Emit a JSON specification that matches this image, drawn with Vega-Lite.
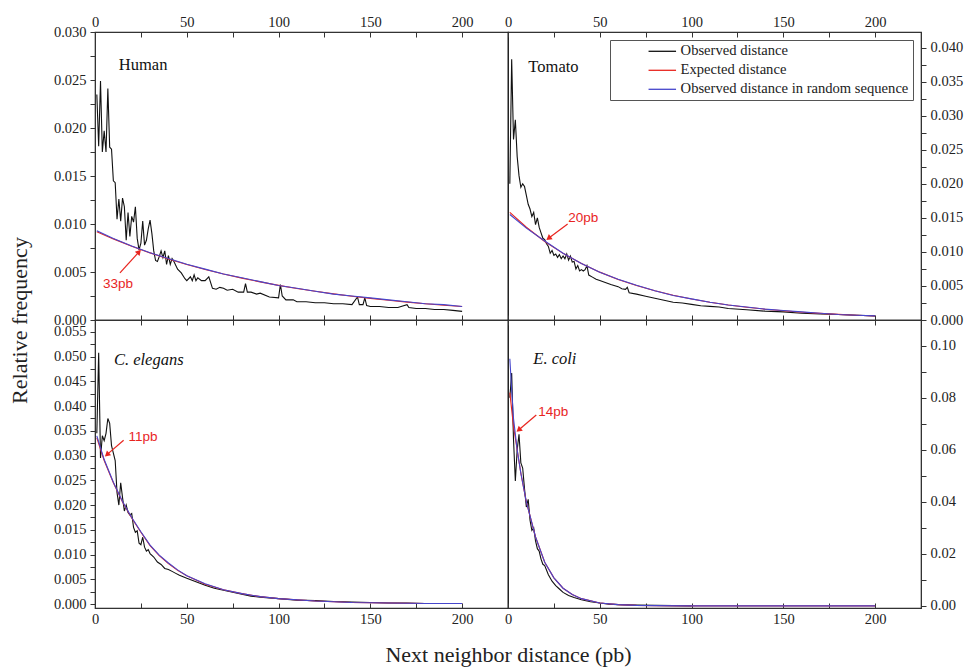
{
  "$schema": "https://vega.github.io/schema/vega-lite/v6.json",
  "padding": {"left": 7, "top": 13, "right": 5, "bottom": 5},
  "background": "white",
  "config": {
    "view": {"stroke": "#222", "strokeWidth": 1.2},
    "axis": {"labelFont": "Liberation Serif", "labelFontSize": 14.5, "labelColor": "#222", "domainColor": "#333", "tickColor": "#333", "grid": false, "titleFont": "Liberation Serif", "titleFontSize": 22, "titleFontWeight": "normal", "titleColor": "#222", "labelFlush": false, "labelOverlap": false, "tickCount": 100},
    "legend": {"labelFont": "Liberation Serif", "labelFontSize": 14.6, "labelColor": "#222", "labelLimit": 400}
  },
  "datasets": {
    "human": [
      {"s": "Observed distance", "d": 1, "f": 0.0235}, {"s": "Observed distance", "d": 2, "f": 0.0181}, {"s": "Observed distance", "d": 3, "f": 0.0249}, {"s": "Observed distance", "d": 4, "f": 0.0175}, {"s": "Observed distance", "d": 5, "f": 0.0197}, {"s": "Observed distance", "d": 6, "f": 0.0175}, {"s": "Observed distance", "d": 7, "f": 0.0241}, {"s": "Observed distance", "d": 8, "f": 0.018}, {"s": "Observed distance", "d": 9, "f": 0.0178}, {"s": "Observed distance", "d": 10, "f": 0.0145}, {"s": "Observed distance", "d": 11, "f": 0.0143}, {"s": "Observed distance", "d": 12, "f": 0.0105}, {"s": "Observed distance", "d": 13, "f": 0.0126}, {"s": "Observed distance", "d": 14, "f": 0.0103}, {"s": "Observed distance", "d": 15, "f": 0.0127}, {"s": "Observed distance", "d": 16, "f": 0.0118}, {"s": "Observed distance", "d": 17, "f": 0.0083}, {"s": "Observed distance", "d": 18, "f": 0.0112}, {"s": "Observed distance", "d": 19, "f": 0.0087}, {"s": "Observed distance", "d": 20, "f": 0.0108}, {"s": "Observed distance", "d": 21, "f": 0.0102}, {"s": "Observed distance", "d": 22, "f": 0.0118}, {"s": "Observed distance", "d": 23, "f": 0.0085}, {"s": "Observed distance", "d": 24, "f": 0.0073}, {"s": "Observed distance", "d": 25, "f": 0.008}, {"s": "Observed distance", "d": 26, "f": 0.0103}, {"s": "Observed distance", "d": 27, "f": 0.0078}, {"s": "Observed distance", "d": 28, "f": 0.0083}, {"s": "Observed distance", "d": 29, "f": 0.0095}, {"s": "Observed distance", "d": 30, "f": 0.0104}, {"s": "Observed distance", "d": 31, "f": 0.009}, {"s": "Observed distance", "d": 32, "f": 0.0072}, {"s": "Observed distance", "d": 33, "f": 0.0062}, {"s": "Observed distance", "d": 34, "f": 0.0061}, {"s": "Observed distance", "d": 35, "f": 0.0066}, {"s": "Observed distance", "d": 36, "f": 0.0072}, {"s": "Observed distance", "d": 37, "f": 0.0065}, {"s": "Observed distance", "d": 38, "f": 0.0072}, {"s": "Observed distance", "d": 39, "f": 0.0058}, {"s": "Observed distance", "d": 40, "f": 0.0067}, {"s": "Observed distance", "d": 41, "f": 0.0058}, {"s": "Observed distance", "d": 42, "f": 0.0064}, {"s": "Observed distance", "d": 43, "f": 0.0061}, {"s": "Observed distance", "d": 45, "f": 0.0053}, {"s": "Observed distance", "d": 47, "f": 0.0049}, {"s": "Observed distance", "d": 49, "f": 0.0043}, {"s": "Observed distance", "d": 50, "f": 0.0041}, {"s": "Observed distance", "d": 52, "f": 0.0045}, {"s": "Observed distance", "d": 53, "f": 0.0041}, {"s": "Observed distance", "d": 54, "f": 0.0047}, {"s": "Observed distance", "d": 55, "f": 0.0041}, {"s": "Observed distance", "d": 56, "f": 0.0044}, {"s": "Observed distance", "d": 58, "f": 0.0041}, {"s": "Observed distance", "d": 60, "f": 0.0041}, {"s": "Observed distance", "d": 62, "f": 0.0045}, {"s": "Observed distance", "d": 64, "f": 0.0033}, {"s": "Observed distance", "d": 66, "f": 0.0032}, {"s": "Observed distance", "d": 68, "f": 0.0034}, {"s": "Observed distance", "d": 70, "f": 0.0033}, {"s": "Observed distance", "d": 72, "f": 0.0031}, {"s": "Observed distance", "d": 75, "f": 0.0032}, {"s": "Observed distance", "d": 78, "f": 0.0029}, {"s": "Observed distance", "d": 81, "f": 0.0029}, {"s": "Observed distance", "d": 82, "f": 0.0038}, {"s": "Observed distance", "d": 83, "f": 0.0029}, {"s": "Observed distance", "d": 85, "f": 0.0029}, {"s": "Observed distance", "d": 88, "f": 0.0027}, {"s": "Observed distance", "d": 90, "f": 0.0028}, {"s": "Observed distance", "d": 95, "f": 0.0024}, {"s": "Observed distance", "d": 100, "f": 0.0023}, {"s": "Observed distance", "d": 101, "f": 0.0037}, {"s": "Observed distance", "d": 102, "f": 0.0025}, {"s": "Observed distance", "d": 104, "f": 0.0021}, {"s": "Observed distance", "d": 108, "f": 0.0021}, {"s": "Observed distance", "d": 110, "f": 0.0019}, {"s": "Observed distance", "d": 115, "f": 0.0019}, {"s": "Observed distance", "d": 120, "f": 0.0018}, {"s": "Observed distance", "d": 125, "f": 0.0018}, {"s": "Observed distance", "d": 130, "f": 0.0017}, {"s": "Observed distance", "d": 135, "f": 0.0017}, {"s": "Observed distance", "d": 140, "f": 0.0016}, {"s": "Observed distance", "d": 143, "f": 0.0024}, {"s": "Observed distance", "d": 144, "f": 0.0016}, {"s": "Observed distance", "d": 146, "f": 0.0016}, {"s": "Observed distance", "d": 147, "f": 0.0023}, {"s": "Observed distance", "d": 148, "f": 0.0015}, {"s": "Observed distance", "d": 150, "f": 0.0014}, {"s": "Observed distance", "d": 155, "f": 0.0014}, {"s": "Observed distance", "d": 160, "f": 0.0013}, {"s": "Observed distance", "d": 165, "f": 0.0013}, {"s": "Observed distance", "d": 170, "f": 0.0016}, {"s": "Observed distance", "d": 171, "f": 0.0013}, {"s": "Observed distance", "d": 175, "f": 0.0012}, {"s": "Observed distance", "d": 180, "f": 0.0012}, {"s": "Observed distance", "d": 185, "f": 0.0011}, {"s": "Observed distance", "d": 190, "f": 0.0011}, {"s": "Observed distance", "d": 195, "f": 0.001}, {"s": "Observed distance", "d": 200, "f": 0.0009},
      {"s": "Expected distance", "d": 1, "f": 0.0092}, {"s": "Expected distance", "d": 10, "f": 0.00845}, {"s": "Expected distance", "d": 20, "f": 0.00769}, {"s": "Expected distance", "d": 30, "f": 0.00699}, {"s": "Expected distance", "d": 40, "f": 0.00636}, {"s": "Expected distance", "d": 50, "f": 0.00579}, {"s": "Expected distance", "d": 60, "f": 0.00527}, {"s": "Expected distance", "d": 70, "f": 0.00479}, {"s": "Expected distance", "d": 80, "f": 0.00436}, {"s": "Expected distance", "d": 90, "f": 0.00397}, {"s": "Expected distance", "d": 100, "f": 0.00361}, {"s": "Expected distance", "d": 110, "f": 0.00328}, {"s": "Expected distance", "d": 120, "f": 0.00299}, {"s": "Expected distance", "d": 130, "f": 0.00272}, {"s": "Expected distance", "d": 140, "f": 0.00247}, {"s": "Expected distance", "d": 150, "f": 0.00225}, {"s": "Expected distance", "d": 160, "f": 0.00205}, {"s": "Expected distance", "d": 170, "f": 0.00186}, {"s": "Expected distance", "d": 180, "f": 0.00169}, {"s": "Expected distance", "d": 190, "f": 0.00154}, {"s": "Expected distance", "d": 200, "f": 0.0014},
      {"s": "Observed distance in random sequence", "d": 1, "f": 0.0093}, {"s": "Observed distance in random sequence", "d": 10, "f": 0.0085}, {"s": "Observed distance in random sequence", "d": 20, "f": 0.0077}, {"s": "Observed distance in random sequence", "d": 30, "f": 0.007}, {"s": "Observed distance in random sequence", "d": 40, "f": 0.0064}, {"s": "Observed distance in random sequence", "d": 50, "f": 0.0058}, {"s": "Observed distance in random sequence", "d": 60, "f": 0.0053}, {"s": "Observed distance in random sequence", "d": 70, "f": 0.0048}, {"s": "Observed distance in random sequence", "d": 80, "f": 0.0044}, {"s": "Observed distance in random sequence", "d": 90, "f": 0.004}, {"s": "Observed distance in random sequence", "d": 100, "f": 0.0036}, {"s": "Observed distance in random sequence", "d": 110, "f": 0.0033}, {"s": "Observed distance in random sequence", "d": 120, "f": 0.003}, {"s": "Observed distance in random sequence", "d": 130, "f": 0.0027}, {"s": "Observed distance in random sequence", "d": 140, "f": 0.0025}, {"s": "Observed distance in random sequence", "d": 150, "f": 0.0023}, {"s": "Observed distance in random sequence", "d": 160, "f": 0.0021}, {"s": "Observed distance in random sequence", "d": 170, "f": 0.0019}, {"s": "Observed distance in random sequence", "d": 180, "f": 0.0017}, {"s": "Observed distance in random sequence", "d": 190, "f": 0.0016}, {"s": "Observed distance in random sequence", "d": 200, "f": 0.0014}
    ],
    "tomato": [
      {"s": "Observed distance", "d": 1, "f": 0.02}, {"s": "Observed distance", "d": 2, "f": 0.0383}, {"s": "Observed distance", "d": 3, "f": 0.0265}, {"s": "Observed distance", "d": 4, "f": 0.0294}, {"s": "Observed distance", "d": 5, "f": 0.024}, {"s": "Observed distance", "d": 6, "f": 0.0212}, {"s": "Observed distance", "d": 7, "f": 0.0195}, {"s": "Observed distance", "d": 8, "f": 0.02}, {"s": "Observed distance", "d": 9, "f": 0.0196}, {"s": "Observed distance", "d": 10, "f": 0.0183}, {"s": "Observed distance", "d": 11, "f": 0.017}, {"s": "Observed distance", "d": 12, "f": 0.0163}, {"s": "Observed distance", "d": 13, "f": 0.0152}, {"s": "Observed distance", "d": 14, "f": 0.0158}, {"s": "Observed distance", "d": 15, "f": 0.014}, {"s": "Observed distance", "d": 16, "f": 0.015}, {"s": "Observed distance", "d": 17, "f": 0.0136}, {"s": "Observed distance", "d": 18, "f": 0.0128}, {"s": "Observed distance", "d": 19, "f": 0.012}, {"s": "Observed distance", "d": 20, "f": 0.0118}, {"s": "Observed distance", "d": 21, "f": 0.0112}, {"s": "Observed distance", "d": 22, "f": 0.0108}, {"s": "Observed distance", "d": 23, "f": 0.0098}, {"s": "Observed distance", "d": 24, "f": 0.0102}, {"s": "Observed distance", "d": 25, "f": 0.0095}, {"s": "Observed distance", "d": 26, "f": 0.0097}, {"s": "Observed distance", "d": 27, "f": 0.0092}, {"s": "Observed distance", "d": 28, "f": 0.0096}, {"s": "Observed distance", "d": 29, "f": 0.009}, {"s": "Observed distance", "d": 30, "f": 0.0094}, {"s": "Observed distance", "d": 31, "f": 0.009}, {"s": "Observed distance", "d": 32, "f": 0.0097}, {"s": "Observed distance", "d": 33, "f": 0.0088}, {"s": "Observed distance", "d": 34, "f": 0.0094}, {"s": "Observed distance", "d": 35, "f": 0.0085}, {"s": "Observed distance", "d": 36, "f": 0.0086}, {"s": "Observed distance", "d": 37, "f": 0.0075}, {"s": "Observed distance", "d": 38, "f": 0.008}, {"s": "Observed distance", "d": 39, "f": 0.0072}, {"s": "Observed distance", "d": 40, "f": 0.0074}, {"s": "Observed distance", "d": 41, "f": 0.0072}, {"s": "Observed distance", "d": 42, "f": 0.0074}, {"s": "Observed distance", "d": 43, "f": 0.008}, {"s": "Observed distance", "d": 44, "f": 0.0066}, {"s": "Observed distance", "d": 46, "f": 0.0063}, {"s": "Observed distance", "d": 48, "f": 0.006}, {"s": "Observed distance", "d": 50, "f": 0.0058}, {"s": "Observed distance", "d": 53, "f": 0.0055}, {"s": "Observed distance", "d": 56, "f": 0.0052}, {"s": "Observed distance", "d": 60, "f": 0.0049}, {"s": "Observed distance", "d": 62, "f": 0.0046}, {"s": "Observed distance", "d": 64, "f": 0.0045}, {"s": "Observed distance", "d": 65, "f": 0.0048}, {"s": "Observed distance", "d": 66, "f": 0.004}, {"s": "Observed distance", "d": 70, "f": 0.0038}, {"s": "Observed distance", "d": 75, "f": 0.0035}, {"s": "Observed distance", "d": 80, "f": 0.0032}, {"s": "Observed distance", "d": 85, "f": 0.0029}, {"s": "Observed distance", "d": 90, "f": 0.0026}, {"s": "Observed distance", "d": 95, "f": 0.0025}, {"s": "Observed distance", "d": 100, "f": 0.0023}, {"s": "Observed distance", "d": 105, "f": 0.0021}, {"s": "Observed distance", "d": 110, "f": 0.002}, {"s": "Observed distance", "d": 115, "f": 0.0019}, {"s": "Observed distance", "d": 120, "f": 0.0017}, {"s": "Observed distance", "d": 130, "f": 0.0015}, {"s": "Observed distance", "d": 140, "f": 0.0013}, {"s": "Observed distance", "d": 150, "f": 0.0012}, {"s": "Observed distance", "d": 160, "f": 0.001}, {"s": "Observed distance", "d": 170, "f": 0.0009}, {"s": "Observed distance", "d": 180, "f": 0.0008}, {"s": "Observed distance", "d": 190, "f": 0.0007}, {"s": "Observed distance", "d": 200, "f": 0.0006},
      {"s": "Expected distance", "d": 1, "f": 0.0158}, {"s": "Expected distance", "d": 10, "f": 0.01362}, {"s": "Expected distance", "d": 20, "f": 0.01154}, {"s": "Expected distance", "d": 30, "f": 0.00979}, {"s": "Expected distance", "d": 40, "f": 0.0083}, {"s": "Expected distance", "d": 50, "f": 0.00703}, {"s": "Expected distance", "d": 60, "f": 0.00596}, {"s": "Expected distance", "d": 70, "f": 0.00506}, {"s": "Expected distance", "d": 80, "f": 0.00429}, {"s": "Expected distance", "d": 90, "f": 0.00363}, {"s": "Expected distance", "d": 100, "f": 0.00308}, {"s": "Expected distance", "d": 110, "f": 0.00261}, {"s": "Expected distance", "d": 120, "f": 0.00221}, {"s": "Expected distance", "d": 130, "f": 0.00188}, {"s": "Expected distance", "d": 140, "f": 0.00159}, {"s": "Expected distance", "d": 150, "f": 0.00135}, {"s": "Expected distance", "d": 160, "f": 0.00114}, {"s": "Expected distance", "d": 170, "f": 0.00097}, {"s": "Expected distance", "d": 180, "f": 0.00082}, {"s": "Expected distance", "d": 190, "f": 0.0007}, {"s": "Expected distance", "d": 200, "f": 0.00059},
      {"s": "Observed distance in random sequence", "d": 1, "f": 0.0155}, {"s": "Observed distance in random sequence", "d": 10, "f": 0.0135}, {"s": "Observed distance in random sequence", "d": 20, "f": 0.0116}, {"s": "Observed distance in random sequence", "d": 30, "f": 0.0098}, {"s": "Observed distance in random sequence", "d": 40, "f": 0.0083}, {"s": "Observed distance in random sequence", "d": 50, "f": 0.007}, {"s": "Observed distance in random sequence", "d": 60, "f": 0.006}, {"s": "Observed distance in random sequence", "d": 70, "f": 0.0051}, {"s": "Observed distance in random sequence", "d": 80, "f": 0.0043}, {"s": "Observed distance in random sequence", "d": 90, "f": 0.0036}, {"s": "Observed distance in random sequence", "d": 100, "f": 0.0031}, {"s": "Observed distance in random sequence", "d": 110, "f": 0.0026}, {"s": "Observed distance in random sequence", "d": 120, "f": 0.0022}, {"s": "Observed distance in random sequence", "d": 130, "f": 0.0019}, {"s": "Observed distance in random sequence", "d": 140, "f": 0.0016}, {"s": "Observed distance in random sequence", "d": 150, "f": 0.0014}, {"s": "Observed distance in random sequence", "d": 160, "f": 0.0012}, {"s": "Observed distance in random sequence", "d": 170, "f": 0.001}, {"s": "Observed distance in random sequence", "d": 180, "f": 0.0008}, {"s": "Observed distance in random sequence", "d": 190, "f": 0.0007}, {"s": "Observed distance in random sequence", "d": 200, "f": 0.0006}
    ],
    "celegans": [
      {"s": "Observed distance", "d": 1, "f": 0.0345}, {"s": "Observed distance", "d": 2, "f": 0.0508}, {"s": "Observed distance", "d": 3, "f": 0.0295}, {"s": "Observed distance", "d": 4, "f": 0.034}, {"s": "Observed distance", "d": 5, "f": 0.033}, {"s": "Observed distance", "d": 6, "f": 0.0345}, {"s": "Observed distance", "d": 7, "f": 0.0375}, {"s": "Observed distance", "d": 8, "f": 0.0365}, {"s": "Observed distance", "d": 9, "f": 0.032}, {"s": "Observed distance", "d": 10, "f": 0.0305}, {"s": "Observed distance", "d": 11, "f": 0.029}, {"s": "Observed distance", "d": 12, "f": 0.0225}, {"s": "Observed distance", "d": 13, "f": 0.02}, {"s": "Observed distance", "d": 14, "f": 0.0245}, {"s": "Observed distance", "d": 15, "f": 0.0215}, {"s": "Observed distance", "d": 16, "f": 0.0188}, {"s": "Observed distance", "d": 17, "f": 0.02}, {"s": "Observed distance", "d": 18, "f": 0.0185}, {"s": "Observed distance", "d": 19, "f": 0.018}, {"s": "Observed distance", "d": 20, "f": 0.0183}, {"s": "Observed distance", "d": 21, "f": 0.0155}, {"s": "Observed distance", "d": 22, "f": 0.0145}, {"s": "Observed distance", "d": 23, "f": 0.0148}, {"s": "Observed distance", "d": 24, "f": 0.0123}, {"s": "Observed distance", "d": 25, "f": 0.012}, {"s": "Observed distance", "d": 26, "f": 0.0135}, {"s": "Observed distance", "d": 27, "f": 0.0115}, {"s": "Observed distance", "d": 28, "f": 0.0107}, {"s": "Observed distance", "d": 29, "f": 0.011}, {"s": "Observed distance", "d": 30, "f": 0.0102}, {"s": "Observed distance", "d": 32, "f": 0.0095}, {"s": "Observed distance", "d": 34, "f": 0.0085}, {"s": "Observed distance", "d": 36, "f": 0.008}, {"s": "Observed distance", "d": 38, "f": 0.0072}, {"s": "Observed distance", "d": 40, "f": 0.007}, {"s": "Observed distance", "d": 42, "f": 0.0066}, {"s": "Observed distance", "d": 44, "f": 0.0062}, {"s": "Observed distance", "d": 46, "f": 0.0058}, {"s": "Observed distance", "d": 48, "f": 0.0055}, {"s": "Observed distance", "d": 50, "f": 0.0052}, {"s": "Observed distance", "d": 55, "f": 0.0045}, {"s": "Observed distance", "d": 60, "f": 0.0038}, {"s": "Observed distance", "d": 65, "f": 0.0032}, {"s": "Observed distance", "d": 70, "f": 0.0028}, {"s": "Observed distance", "d": 75, "f": 0.0024}, {"s": "Observed distance", "d": 80, "f": 0.002}, {"s": "Observed distance", "d": 85, "f": 0.0016}, {"s": "Observed distance", "d": 90, "f": 0.0014}, {"s": "Observed distance", "d": 100, "f": 0.0011}, {"s": "Observed distance", "d": 110, "f": 0.0008}, {"s": "Observed distance", "d": 120, "f": 0.0007}, {"s": "Observed distance", "d": 130, "f": 0.0005}, {"s": "Observed distance", "d": 140, "f": 0.0004}, {"s": "Observed distance", "d": 150, "f": 0.0003}, {"s": "Observed distance", "d": 160, "f": 0.0002}, {"s": "Observed distance", "d": 170, "f": 0.0002}, {"s": "Observed distance", "d": 180, "f": 0.0001}, {"s": "Observed distance", "d": 190, "f": 0.0001}, {"s": "Observed distance", "d": 200, "f": 0.0001},
      {"s": "Expected distance", "d": 1, "f": 0.0336}, {"s": "Expected distance", "d": 5, "f": 0.029}, {"s": "Expected distance", "d": 10, "f": 0.0245}, {"s": "Expected distance", "d": 15, "f": 0.0206}, {"s": "Expected distance", "d": 20, "f": 0.0174}, {"s": "Expected distance", "d": 25, "f": 0.0145}, {"s": "Expected distance", "d": 30, "f": 0.0118}, {"s": "Expected distance", "d": 35, "f": 0.0098}, {"s": "Expected distance", "d": 40, "f": 0.0082}, {"s": "Expected distance", "d": 45, "f": 0.0068}, {"s": "Expected distance", "d": 50, "f": 0.0057}, {"s": "Expected distance", "d": 60, "f": 0.004}, {"s": "Expected distance", "d": 70, "f": 0.0029}, {"s": "Expected distance", "d": 80, "f": 0.0021}, {"s": "Expected distance", "d": 90, "f": 0.0015}, {"s": "Expected distance", "d": 100, "f": 0.0011}, {"s": "Expected distance", "d": 120, "f": 0.0006}, {"s": "Expected distance", "d": 140, "f": 0.0003}, {"s": "Expected distance", "d": 160, "f": 0.0002}, {"s": "Expected distance", "d": 180, "f": 0.0001}, {"s": "Expected distance", "d": 200, "f": 0.0001},
      {"s": "Observed distance in random sequence", "d": 1, "f": 0.034}, {"s": "Observed distance in random sequence", "d": 5, "f": 0.0292}, {"s": "Observed distance in random sequence", "d": 10, "f": 0.0246}, {"s": "Observed distance in random sequence", "d": 15, "f": 0.0207}, {"s": "Observed distance in random sequence", "d": 20, "f": 0.0175}, {"s": "Observed distance in random sequence", "d": 25, "f": 0.0146}, {"s": "Observed distance in random sequence", "d": 30, "f": 0.0119}, {"s": "Observed distance in random sequence", "d": 35, "f": 0.0099}, {"s": "Observed distance in random sequence", "d": 40, "f": 0.0083}, {"s": "Observed distance in random sequence", "d": 45, "f": 0.0069}, {"s": "Observed distance in random sequence", "d": 50, "f": 0.0057}, {"s": "Observed distance in random sequence", "d": 60, "f": 0.0041}, {"s": "Observed distance in random sequence", "d": 70, "f": 0.0029}, {"s": "Observed distance in random sequence", "d": 80, "f": 0.0021}, {"s": "Observed distance in random sequence", "d": 90, "f": 0.0015}, {"s": "Observed distance in random sequence", "d": 100, "f": 0.0011}, {"s": "Observed distance in random sequence", "d": 120, "f": 0.0006}, {"s": "Observed distance in random sequence", "d": 140, "f": 0.0003}, {"s": "Observed distance in random sequence", "d": 160, "f": 0.0002}, {"s": "Observed distance in random sequence", "d": 180, "f": 0.0001}, {"s": "Observed distance in random sequence", "d": 200, "f": 0.0001}
    ],
    "ecoli": [
      {"s": "Observed distance", "d": 1, "f": 0.08}, {"s": "Observed distance", "d": 2, "f": 0.0895}, {"s": "Observed distance", "d": 3, "f": 0.064}, {"s": "Observed distance", "d": 4, "f": 0.048}, {"s": "Observed distance", "d": 5, "f": 0.06}, {"s": "Observed distance", "d": 6, "f": 0.066}, {"s": "Observed distance", "d": 7, "f": 0.055}, {"s": "Observed distance", "d": 8, "f": 0.053}, {"s": "Observed distance", "d": 9, "f": 0.045}, {"s": "Observed distance", "d": 10, "f": 0.038}, {"s": "Observed distance", "d": 11, "f": 0.041}, {"s": "Observed distance", "d": 12, "f": 0.033}, {"s": "Observed distance", "d": 13, "f": 0.029}, {"s": "Observed distance", "d": 14, "f": 0.03}, {"s": "Observed distance", "d": 15, "f": 0.025}, {"s": "Observed distance", "d": 16, "f": 0.022}, {"s": "Observed distance", "d": 17, "f": 0.021}, {"s": "Observed distance", "d": 18, "f": 0.018}, {"s": "Observed distance", "d": 19, "f": 0.016}, {"s": "Observed distance", "d": 20, "f": 0.0155}, {"s": "Observed distance", "d": 22, "f": 0.012}, {"s": "Observed distance", "d": 24, "f": 0.0095}, {"s": "Observed distance", "d": 26, "f": 0.0078}, {"s": "Observed distance", "d": 28, "f": 0.0065}, {"s": "Observed distance", "d": 30, "f": 0.0052}, {"s": "Observed distance", "d": 33, "f": 0.004}, {"s": "Observed distance", "d": 36, "f": 0.0032}, {"s": "Observed distance", "d": 40, "f": 0.0024}, {"s": "Observed distance", "d": 45, "f": 0.0016}, {"s": "Observed distance", "d": 50, "f": 0.0011}, {"s": "Observed distance", "d": 55, "f": 0.0007}, {"s": "Observed distance", "d": 60, "f": 0.0005}, {"s": "Observed distance", "d": 70, "f": 0.0003}, {"s": "Observed distance", "d": 80, "f": 0.0002}, {"s": "Observed distance", "d": 90, "f": 0.0001}, {"s": "Observed distance", "d": 100, "f": 0.0},
      {"s": "Expected distance", "d": 1, "f": 0.082}, {"s": "Expected distance", "d": 3, "f": 0.069}, {"s": "Expected distance", "d": 5, "f": 0.06}, {"s": "Expected distance", "d": 7, "f": 0.051}, {"s": "Expected distance", "d": 10, "f": 0.04}, {"s": "Expected distance", "d": 15, "f": 0.0265}, {"s": "Expected distance", "d": 20, "f": 0.0168}, {"s": "Expected distance", "d": 25, "f": 0.0108}, {"s": "Expected distance", "d": 30, "f": 0.0068}, {"s": "Expected distance", "d": 35, "f": 0.0044}, {"s": "Expected distance", "d": 40, "f": 0.0028}, {"s": "Expected distance", "d": 50, "f": 0.0011}, {"s": "Expected distance", "d": 60, "f": 0.0005}, {"s": "Expected distance", "d": 70, "f": 0.0002}, {"s": "Expected distance", "d": 80, "f": 0.0001}, {"s": "Expected distance", "d": 100, "f": 0.0}, {"s": "Expected distance", "d": 150, "f": 0.0}, {"s": "Expected distance", "d": 200, "f": 0.0},
      {"s": "Observed distance in random sequence", "d": 1, "f": 0.095}, {"s": "Observed distance in random sequence", "d": 2, "f": 0.083}, {"s": "Observed distance in random sequence", "d": 3, "f": 0.072}, {"s": "Observed distance in random sequence", "d": 5, "f": 0.06}, {"s": "Observed distance in random sequence", "d": 7, "f": 0.051}, {"s": "Observed distance in random sequence", "d": 10, "f": 0.04}, {"s": "Observed distance in random sequence", "d": 15, "f": 0.0265}, {"s": "Observed distance in random sequence", "d": 20, "f": 0.0168}, {"s": "Observed distance in random sequence", "d": 25, "f": 0.0108}, {"s": "Observed distance in random sequence", "d": 30, "f": 0.0068}, {"s": "Observed distance in random sequence", "d": 35, "f": 0.0044}, {"s": "Observed distance in random sequence", "d": 40, "f": 0.0028}, {"s": "Observed distance in random sequence", "d": 50, "f": 0.0011}, {"s": "Observed distance in random sequence", "d": 60, "f": 0.0005}, {"s": "Observed distance in random sequence", "d": 70, "f": 0.0002}, {"s": "Observed distance in random sequence", "d": 80, "f": 0.0001}, {"s": "Observed distance in random sequence", "d": 100, "f": 0.0}, {"s": "Observed distance in random sequence", "d": 150, "f": 0.0}, {"s": "Observed distance in random sequence", "d": 200, "f": 0.0}
    ],
    "notes": [
      {"p": "H", "x1": 13.6, "y1": 0.0049, "x2": 24, "y2": 0.0071, "a": 42, "label": "33pb", "tx": 12.5, "ty": 0.00375, "name": "Human", "nx": 13, "ny": 0.0266},
      {"p": "T", "x1": 32.5, "y1": 0.0141, "x2": 22.1, "y2": 0.012, "a": 233, "label": "20pb", "tx": 41, "ty": 0.015, "name": "Tomato", "nx": 11.1, "ny": 0.0372},
      {"p": "C", "x1": 15.6, "y1": 0.0331, "x2": 6.5, "y2": 0.0302, "a": 229, "label": "11pb", "tx": 26.1, "ty": 0.0338, "name": "C. elegans", "nx": 10.3, "ny": 0.0494},
      {"p": "E", "x1": 15.4, "y1": 0.0734, "x2": 5.8, "y2": 0.0676, "a": 230, "label": "14pb", "tx": 24.7, "ty": 0.0745, "name": "E. coli", "nx": 13.8, "ny": 0.0949}
    ]
  },
  "columns": 2,
  "concat": [
    {
      "width": 413, "height": 288,
      "layer": [
        {"data": {"name": "human"}, "mark": {"type": "line", "strokeWidth": 1.1},
         "encoding": {
           "x": {"field": "d", "type": "quantitative", "scale": {"domain": [0, 225], "nice": false},
                 "axis": {"orient": "top", "values": [0, 25, 50, 75, 100, 125, 150, 175, 200], "labelExpr": "datum.value % 50 === 0 ? datum.label : ''", "tickSize": -5, "tickCount": 100, "labelPadding": 8, "labelOverlap": false, "title": null}},
           "y": {"field": "f", "type": "quantitative", "scale": {"domain": [0, 0.03], "nice": false},
                 "axis": {"orient": "left", "values": [0, 0.0025, 0.005, 0.0075, 0.01, 0.0125, 0.015, 0.0175, 0.02, 0.0225, 0.025, 0.0275, 0.03], "labelExpr": "round(datum.value * 10000) % 50 === 0 ? format(datum.value, '.3f') : ''", "tickSize": 5, "tickCount": 100, "labelPadding": 4, "labelOverlap": false, "title": "Relative frequency", "titleX": -64, "titleY": 288, "titleAnchor": "middle"}},
           "color": {"field": "s", "type": "nominal", "scale": {"domain": ["Observed distance", "Expected distance", "Observed distance in random sequence"], "range": ["#111111", "#e8251f", "#4646cc"]}, "legend": null}
         }},
        {"data": {"name": "notes"}, "transform": [{"filter": "datum.p === 'H'"}], "mark": {"type": "rule", "color": "#e8251f", "strokeWidth": 1.2},
         "encoding": {
           "x": {"field": "x1", "type": "quantitative", "scale": {"domain": [0, 225], "nice": false}, "axis": {"orient": "bottom", "values": [0, 25, 50, 75, 100, 125, 150, 175, 200], "labels": false, "tickSize": -5, "tickCount": 100, "title": null}},
           "y": {"field": "y1", "type": "quantitative", "scale": {"domain": [0, 0.03], "nice": false}},
           "x2": {"field": "x2"}, "y2": {"field": "y2"}}},
        {"data": {"name": "notes"}, "transform": [{"filter": "datum.p === 'H'"}], "mark": {"type": "point", "shape": "triangle-up", "filled": true, "color": "#e8251f", "size": 40, "opacity": 1},
         "encoding": {"x": {"field": "x2", "type": "quantitative", "scale": {"domain": [0, 225], "nice": false}, "axis": null}, "y": {"field": "y2", "type": "quantitative", "scale": {"domain": [0, 0.03], "nice": false}}, "angle": {"field": "a", "type": "quantitative", "scale": null}}},
        {"data": {"name": "notes"}, "transform": [{"filter": "datum.p === 'H'"}], "mark": {"type": "text", "color": "#e8251f", "font": "Liberation Sans", "fontSize": 13.5, "align": "center", "baseline": "middle"},
         "encoding": {"x": {"field": "tx", "type": "quantitative", "scale": {"domain": [0, 225], "nice": false}, "axis": null}, "y": {"field": "ty", "type": "quantitative", "scale": {"domain": [0, 0.03], "nice": false}}, "text": {"field": "label"}}},
        {"data": {"name": "notes"}, "transform": [{"filter": "datum.p === 'H'"}], "mark": {"type": "text", "color": "#111", "font": "Liberation Serif", "fontSize": 16.5, "align": "left", "baseline": "middle"},
         "encoding": {"x": {"field": "nx", "type": "quantitative", "scale": {"domain": [0, 225], "nice": false}, "axis": null}, "y": {"field": "ny", "type": "quantitative", "scale": {"domain": [0, 0.03], "nice": false}}, "text": {"field": "name"}}}
      ],
      "resolve": {"axis": {"x": "independent"}}
    },
    {
      "width": 413, "height": 288,
      "layer": [
        {"data": {"name": "tomato"}, "mark": {"type": "line", "strokeWidth": 1.1},
         "encoding": {
           "x": {"field": "d", "type": "quantitative", "scale": {"domain": [0, 225], "nice": false},
                 "axis": {"orient": "top", "values": [0, 25, 50, 75, 100, 125, 150, 175, 200], "labelExpr": "datum.value % 50 === 0 ? datum.label : ''", "tickSize": -5, "tickCount": 100, "labelPadding": 8, "labelOverlap": false, "title": null}},
           "y": {"field": "f", "type": "quantitative", "scale": {"domain": [0, 0.0423], "nice": false},
                 "axis": {"orient": "right", "values": [0, 0.0025, 0.005, 0.0075, 0.01, 0.0125, 0.015, 0.0175, 0.02, 0.0225, 0.025, 0.0275, 0.03, 0.0325, 0.035, 0.0375, 0.04], "labelExpr": "round(datum.value * 10000) % 50 === 0 ? format(datum.value, '.3f') : ''", "tickSize": 5, "tickCount": 100, "labelPadding": 4, "labelOverlap": false, "title": null}},
           "color": {"field": "s", "type": "nominal", "scale": {"domain": ["Observed distance", "Expected distance", "Observed distance in random sequence"], "range": ["#111111", "#e8251f", "#4646cc"]},
                     "legend": {"orient": "top-right", "offset": 8, "title": null, "symbolType": "M-2.5,0H2.5", "symbolSize": 121, "symbolStrokeWidth": 1.3, "strokeColor": "#555", "fillColor": "white", "padding": 4, "symbolOffset": 41, "labelOffset": 11, "rowPadding": 4}}
         }},
        {"data": {"name": "notes"}, "transform": [{"filter": "datum.p === 'T'"}], "mark": {"type": "rule", "color": "#e8251f", "strokeWidth": 1.2},
         "encoding": {
           "x": {"field": "x1", "type": "quantitative", "scale": {"domain": [0, 225], "nice": false}, "axis": {"orient": "bottom", "values": [0, 25, 50, 75, 100, 125, 150, 175, 200], "labels": false, "tickSize": -5, "tickCount": 100, "title": null}},
           "y": {"field": "y1", "type": "quantitative", "scale": {"domain": [0, 0.0423], "nice": false}},
           "x2": {"field": "x2"}, "y2": {"field": "y2"}}},
        {"data": {"name": "notes"}, "transform": [{"filter": "datum.p === 'T'"}], "mark": {"type": "point", "shape": "triangle-up", "filled": true, "color": "#e8251f", "size": 40, "opacity": 1},
         "encoding": {"x": {"field": "x2", "type": "quantitative", "scale": {"domain": [0, 225], "nice": false}, "axis": null}, "y": {"field": "y2", "type": "quantitative", "scale": {"domain": [0, 0.0423], "nice": false}}, "angle": {"field": "a", "type": "quantitative", "scale": null}}},
        {"data": {"name": "notes"}, "transform": [{"filter": "datum.p === 'T'"}], "mark": {"type": "text", "color": "#e8251f", "font": "Liberation Sans", "fontSize": 13.5, "align": "center", "baseline": "middle"},
         "encoding": {"x": {"field": "tx", "type": "quantitative", "scale": {"domain": [0, 225], "nice": false}, "axis": null}, "y": {"field": "ty", "type": "quantitative", "scale": {"domain": [0, 0.0423], "nice": false}}, "text": {"field": "label"}}},
        {"data": {"name": "notes"}, "transform": [{"filter": "datum.p === 'T'"}], "mark": {"type": "text", "color": "#111", "font": "Liberation Serif", "fontSize": 16.5, "align": "left", "baseline": "middle"},
         "encoding": {"x": {"field": "nx", "type": "quantitative", "scale": {"domain": [0, 225], "nice": false}, "axis": null}, "y": {"field": "ny", "type": "quantitative", "scale": {"domain": [0, 0.0423], "nice": false}}, "text": {"field": "name"}}}
      ],
      "resolve": {"axis": {"x": "independent"}}
    },
    {
      "width": 413, "height": 288,
      "layer": [
        {"data": {"name": "celegans"}, "mark": {"type": "line", "strokeWidth": 1.1},
         "encoding": {
           "x": {"field": "d", "type": "quantitative", "scale": {"domain": [0, 225], "nice": false},
                 "axis": {"orient": "bottom", "values": [0, 25, 50, 75, 100, 125, 150, 175, 200], "labelExpr": "datum.value % 50 === 0 ? datum.label : ''", "tickSize": -5, "tickCount": 100, "labelPadding": 9, "labelOverlap": false, "title": "Next neighbor distance (pb)", "titleX": 413, "titleY": 53, "titleBaseline": "alphabetic", "titleAlign": "center"}},
           "y": {"field": "f", "type": "quantitative", "scale": {"domain": [-0.0008, 0.0574], "nice": false},
                 "axis": {"orient": "left", "values": [0, 0.0025, 0.005, 0.0075, 0.01, 0.0125, 0.015, 0.0175, 0.02, 0.0225, 0.025, 0.0275, 0.03, 0.0325, 0.035, 0.0375, 0.04, 0.0425, 0.045, 0.0475, 0.05, 0.0525, 0.055], "labelExpr": "round(datum.value * 10000) % 50 === 0 ? format(datum.value, '.3f') : ''", "tickSize": 5, "tickCount": 100, "labelPadding": 4, "labelOverlap": false, "title": null}},
           "color": {"field": "s", "type": "nominal", "scale": {"domain": ["Observed distance", "Expected distance", "Observed distance in random sequence"], "range": ["#111111", "#e8251f", "#4646cc"]}, "legend": null}
         }},
        {"data": {"name": "notes"}, "transform": [{"filter": "datum.p === 'C'"}], "mark": {"type": "rule", "color": "#e8251f", "strokeWidth": 1.2},
         "encoding": {
           "x": {"field": "x1", "type": "quantitative", "scale": {"domain": [0, 225], "nice": false}, "axis": {"orient": "top", "values": [0, 25, 50, 75, 100, 125, 150, 175, 200], "labels": false, "tickSize": -5, "tickCount": 100, "title": null}},
           "y": {"field": "y1", "type": "quantitative", "scale": {"domain": [-0.0008, 0.0574], "nice": false}},
           "x2": {"field": "x2"}, "y2": {"field": "y2"}}},
        {"data": {"name": "notes"}, "transform": [{"filter": "datum.p === 'C'"}], "mark": {"type": "point", "shape": "triangle-up", "filled": true, "color": "#e8251f", "size": 40, "opacity": 1},
         "encoding": {"x": {"field": "x2", "type": "quantitative", "scale": {"domain": [0, 225], "nice": false}, "axis": null}, "y": {"field": "y2", "type": "quantitative", "scale": {"domain": [-0.0008, 0.0574], "nice": false}}, "angle": {"field": "a", "type": "quantitative", "scale": null}}},
        {"data": {"name": "notes"}, "transform": [{"filter": "datum.p === 'C'"}], "mark": {"type": "text", "color": "#e8251f", "font": "Liberation Sans", "fontSize": 13.5, "align": "center", "baseline": "middle"},
         "encoding": {"x": {"field": "tx", "type": "quantitative", "scale": {"domain": [0, 225], "nice": false}, "axis": null}, "y": {"field": "ty", "type": "quantitative", "scale": {"domain": [-0.0008, 0.0574], "nice": false}}, "text": {"field": "label"}}},
        {"data": {"name": "notes"}, "transform": [{"filter": "datum.p === 'C'"}], "mark": {"type": "text", "color": "#111", "font": "Liberation Serif", "fontSize": 16.5, "fontStyle": "italic", "align": "left", "baseline": "middle"},
         "encoding": {"x": {"field": "nx", "type": "quantitative", "scale": {"domain": [0, 225], "nice": false}, "axis": null}, "y": {"field": "ny", "type": "quantitative", "scale": {"domain": [-0.0008, 0.0574], "nice": false}}, "text": {"field": "name"}}}
      ],
      "resolve": {"axis": {"x": "independent"}}
    },
    {
      "width": 413, "height": 288,
      "layer": [
        {"data": {"name": "ecoli"}, "mark": {"type": "line", "strokeWidth": 1.1},
         "encoding": {
           "x": {"field": "d", "type": "quantitative", "scale": {"domain": [0, 225], "nice": false},
                 "axis": {"orient": "bottom", "values": [0, 25, 50, 75, 100, 125, 150, 175, 200], "labelExpr": "datum.value % 50 === 0 ? datum.label : ''", "tickSize": -5, "tickCount": 100, "labelPadding": 9, "labelOverlap": false, "title": null}},
           "y": {"field": "f", "type": "quantitative", "scale": {"domain": [-0.0008, 0.1099], "nice": false},
                 "axis": {"orient": "right", "values": [0, 0.01, 0.02, 0.03, 0.04, 0.05, 0.06, 0.07, 0.08, 0.09, 0.1], "labelExpr": "round(datum.value * 100) % 2 === 0 ? format(datum.value, '.2f') : ''", "tickSize": 5, "tickCount": 100, "labelPadding": 4, "labelOverlap": false, "title": null}},
           "color": {"field": "s", "type": "nominal", "scale": {"domain": ["Observed distance", "Expected distance", "Observed distance in random sequence"], "range": ["#111111", "#e8251f", "#4646cc"]}, "legend": null}
         }},
        {"data": {"name": "notes"}, "transform": [{"filter": "datum.p === 'E'"}], "mark": {"type": "rule", "color": "#e8251f", "strokeWidth": 1.2},
         "encoding": {
           "x": {"field": "x1", "type": "quantitative", "scale": {"domain": [0, 225], "nice": false}, "axis": {"orient": "top", "values": [0, 25, 50, 75, 100, 125, 150, 175, 200], "labels": false, "tickSize": -5, "tickCount": 100, "title": null}},
           "y": {"field": "y1", "type": "quantitative", "scale": {"domain": [-0.0008, 0.1099], "nice": false}},
           "x2": {"field": "x2"}, "y2": {"field": "y2"}}},
        {"data": {"name": "notes"}, "transform": [{"filter": "datum.p === 'E'"}], "mark": {"type": "point", "shape": "triangle-up", "filled": true, "color": "#e8251f", "size": 40, "opacity": 1},
         "encoding": {"x": {"field": "x2", "type": "quantitative", "scale": {"domain": [0, 225], "nice": false}, "axis": null}, "y": {"field": "y2", "type": "quantitative", "scale": {"domain": [-0.0008, 0.1099], "nice": false}}, "angle": {"field": "a", "type": "quantitative", "scale": null}}},
        {"data": {"name": "notes"}, "transform": [{"filter": "datum.p === 'E'"}], "mark": {"type": "text", "color": "#e8251f", "font": "Liberation Sans", "fontSize": 13.5, "align": "center", "baseline": "middle"},
         "encoding": {"x": {"field": "tx", "type": "quantitative", "scale": {"domain": [0, 225], "nice": false}, "axis": null}, "y": {"field": "ty", "type": "quantitative", "scale": {"domain": [-0.0008, 0.1099], "nice": false}}, "text": {"field": "label"}}},
        {"data": {"name": "notes"}, "transform": [{"filter": "datum.p === 'E'"}], "mark": {"type": "text", "color": "#111", "font": "Liberation Serif", "fontSize": 16.5, "fontStyle": "italic", "align": "left", "baseline": "middle"},
         "encoding": {"x": {"field": "nx", "type": "quantitative", "scale": {"domain": [0, 225], "nice": false}, "axis": null}, "y": {"field": "ny", "type": "quantitative", "scale": {"domain": [-0.0008, 0.1099], "nice": false}}, "text": {"field": "name"}}}
      ],
      "resolve": {"axis": {"x": "independent"}}
    }
  ],
  "spacing": 0, "bounds": "flush",
  "resolve": {"scale": {"color": "independent"}, "legend": {"color": "independent"}}
}
